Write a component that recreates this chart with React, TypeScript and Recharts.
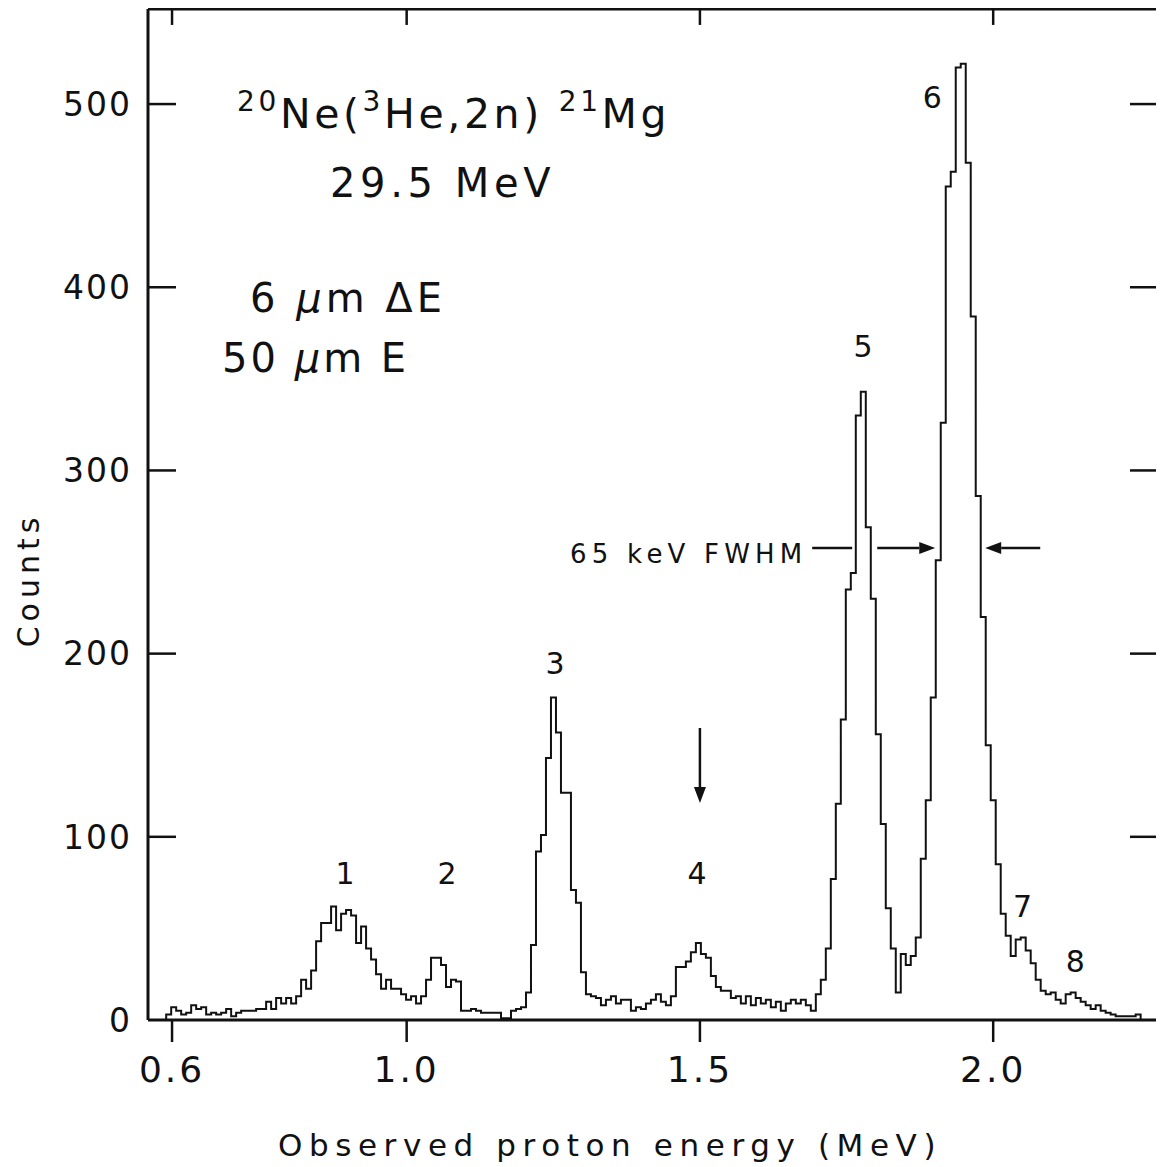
import { Line, LineChart, ReferenceDot, ReferenceLine, XAxis, YAxis } from 'recharts'

// spectrum: channel counts, channel 0 starts at E0, constant channel width
const E0 = 0.59
const CHANNEL_WIDTH = 0.00852
const counts = [
  3, 7, 5, 3, 4, 8, 6, 7, 3, 4,
  3, 4, 6, 2, 4, 5, 5, 5, 6, 6,
  10, 6, 12, 9, 12, 9, 13, 22, 17, 27,
  43, 53, 53, 62, 49, 58, 60, 57, 42, 51,
  39, 33, 25, 17, 22, 17, 17, 14, 11, 13,
  9, 13, 22, 34, 34, 30, 18, 22, 21, 5,
  5, 6, 5, 4, 4, 4, 4, 1, 1, 5,
  6, 7, 15, 41, 92, 101, 143, 176, 157, 124,
  124, 71, 64, 26, 14, 13, 12, 8, 11, 13,
  9, 11, 11, 5, 7, 6, 9, 11, 14, 10,
  8, 13, 29, 29, 32, 37, 42, 36, 34, 24,
  18, 16, 16, 12, 13, 9, 13, 8, 12, 9,
  11, 7, 10, 5, 9, 11, 9, 11, 8, 5,
  14, 22, 39, 77, 118, 164, 235, 244, 330, 343,
  269, 230, 156, 107, 61, 39, 15, 36, 30, 35,
  45, 88, 120, 176, 251, 326, 455, 463, 520, 522,
  468, 384, 286, 220, 150, 120, 85, 58, 46, 35,
  44, 45, 38, 31, 22, 16, 14, 15, 11, 9,
  14, 15, 12, 10, 8, 6, 8, 5, 4, 3,
  2, 2, 2, 2, 3, 0,
]

const energyTicks = [0.6, 1.0, 1.5, 2.0]
const countTicks = [0, 100, 200, 300, 400, 500]
const innerCountTicks = [100, 200, 300, 400, 500]
const E_DOMAIN: [number, number] = [0.559, 2.281]
const C_DOMAIN: [number, number] = [0, 551.9]
const TOP_TICK = 8.7 // length of the top-edge tick marks, in counts

// peak numbers and where they sit (MeV, counts)
const peakNames = ['1', '2', '3', '4', '5', '6', '7', '8']
const peakNameE = [0.895, 1.069, 1.253, 1.495, 1.778, 1.896, 2.05, 2.14]
const peakNameC = [74, 74, 189, 74, 362, 498, 56, 26]

// FWHM marker and the arrow above peak 4
const fwhmCount = 257.6
const fwhmDash = [1.6914, 1.7596]
const fwhmLeftArrow = [1.8023, 1.9012]
const fwhmRightArrow = [2.0802, 1.9864]
const peak4Arrow = { e: 1.5, from: 159.4, to: 118.4 }

const FONT = '"DejaVu Sans", sans-serif'
const INK = '#111'

const data = [
  { e: E0 - CHANNEL_WIDTH, count: 0 },
  ...counts.map((c, i) => ({ e: E0 + i * CHANNEL_WIDTH, count: c })),
  { e: E0 + counts.length * CHANNEL_WIDTH, count: 0 },
]

// inward tick marks for the frame sides (no labels)
const innerTick = (dx: number, dy: number) => (p: any) => (
  <line x1={p.x} y1={p.y} x2={p.x + dx} y2={p.y + dy} stroke={INK} strokeWidth={2.5} />
)

const arrowShape = (head: boolean) => (p: any) => {
  const { x1, y1, x2, y2 } = p
  const dx = x2 - x1
  const dy = y2 - y1
  const len = Math.hypot(dx, dy) || 1
  const ux = dx / len
  const uy = dy / len
  const L = 16
  const W = 6
  const bx = x2 - ux * L
  const by = y2 - uy * L
  return (
    <g>
      <line x1={x1} y1={y1} x2={head ? bx : x2} y2={head ? by : y2} stroke={INK} strokeWidth={2.5} />
      {head && (
        <polygon
          points={`${x2},${y2} ${bx - uy * W},${by + ux * W} ${bx + uy * W},${by - ux * W}`}
          fill={INK}
        />
      )}
    </g>
  )
}

const note = (content: any, size: number, anchor: 'start' | 'middle', spacing = 0) =>
  (p: any) => (
    <text
      x={p.cx}
      y={p.cy}
      fontFamily={FONT}
      fontSize={size}
      textAnchor={anchor}
      letterSpacing={spacing}
      fill={INK}
    >
      {content}
    </text>
  )

const title = (
  <>
    <tspan fontSize={28} dy={-17}>20</tspan>
    <tspan dy={17}>Ne(</tspan>
    <tspan fontSize={28} dy={-17}>3</tspan>
    <tspan dy={17}>He,2n)</tspan>
    <tspan fontSize={28} dx={16} dy={-17}>21</tspan>
    <tspan dy={17}>Mg</tspan>
  </>
)

export default function App() {
  return (
    <div style={{ width: 1156, height: 1159, background: '#fff' }}>
      <LineChart
        width={1156}
        height={1159}
        data={data}
        margin={{ top: 1, right: 6, bottom: 0, left: 0 }}
      >
        <XAxis
          xAxisId="b"
          dataKey="e"
          type="number"
          domain={E_DOMAIN}
          allowDataOverflow
          ticks={energyTicks}
          tickFormatter={(v: number) => v.toFixed(1)}
          height={147}
          tickSize={22}
          tickMargin={14}
          tickLine={{ stroke: INK, strokeWidth: 2.5 }}
          axisLine={{ stroke: INK, strokeWidth: 3 }}
          tick={{ fontSize: 36, fill: INK, fontFamily: FONT, letterSpacing: 3 }}
          label={{
            content: (p: any) => (
              <text
                x={p.viewBox.x + p.viewBox.width / 2 - 43}
                y={p.viewBox.y + 136}
                textAnchor="middle"
                fontFamily={FONT}
                fontSize={31}
                letterSpacing={6.6}
                fill={INK}
              >
                Observed proton energy  (MeV)
              </text>
            ),
          }}
        />
        <XAxis
          xAxisId="t"
          orientation="top"
          mirror
          type="number"
          domain={E_DOMAIN}
          allowDataOverflow
          tick={false}
          tickLine={false}
          axisLine={{ stroke: INK, strokeWidth: 3 }}
        />
        <YAxis
          yAxisId="l"
          orientation="left"
          type="number"
          domain={C_DOMAIN}
          allowDataOverflow
          ticks={countTicks}
          width={140}
          tickLine={false}
          tickSize={0}
          tickMargin={16}
          axisLine={{ stroke: INK, strokeWidth: 3 }}
          tick={{ fontSize: 33, fill: INK, fontFamily: FONT, letterSpacing: 2 }}
          label={{
            content: () => (
              <text
                x={20}
                y={572}
                transform="rotate(-90 20 572)"
                textAnchor="middle"
                dominantBaseline="central"
                fontFamily={FONT}
                fontSize={30}
                letterSpacing={5}
                fill={INK}
              >
                Counts
              </text>
            ),
          }}
        />
        <YAxis
          yAxisId="lm"
          orientation="left"
          mirror
          type="number"
          domain={C_DOMAIN}
          allowDataOverflow
          ticks={innerCountTicks}
          tickLine={false}
          tickSize={0}
          tickMargin={0}
          tick={innerTick(28, 0)}
          axisLine={false}
        />
        <YAxis
          yAxisId="r"
          orientation="right"
          mirror
          type="number"
          domain={C_DOMAIN}
          allowDataOverflow
          ticks={innerCountTicks}
          tickLine={false}
          tickSize={0}
          tickMargin={0}
          tick={innerTick(-28, 0)}
          axisLine={{ stroke: INK, strokeWidth: 3 }}
        />

        <Line
          xAxisId="b"
          yAxisId="l"
          type="stepAfter"
          dataKey="count"
          stroke={INK}
          strokeWidth={2}
          dot={false}
          activeDot={false}
          isAnimationActive={false}
        />

        {energyTicks.map((t) => (
          <ReferenceLine
            key={`top-${t}`}
            xAxisId="b"
            yAxisId="l"
            segment={[{ x: t, y: C_DOMAIN[1] }, { x: t, y: C_DOMAIN[1] - TOP_TICK }]}
            stroke={INK}
            strokeWidth={2.5}
          />
        ))}

        <ReferenceDot xAxisId="b" yAxisId="l" x={0.7108} y={486.9} r={0}
          shape={note(title, 41, 'start', 3.6)} />
        <ReferenceDot xAxisId="b" yAxisId="l" x={0.8694} y={449} r={0}
          shape={note('29.5 MeV', 40, 'start', 4.6)} />
        <ReferenceDot xAxisId="b" yAxisId="l" x={0.733} y={386.5} r={0}
          shape={note(<>6 <tspan fontStyle="italic">μ</tspan>m  ΔE</>, 40, 'start', 4)} />
        <ReferenceDot xAxisId="b" yAxisId="l" x={0.6853} y={353.7} r={0}
          shape={note(<>50 <tspan fontStyle="italic">μ</tspan>m  E</>, 40, 'start', 3)} />
        <ReferenceDot xAxisId="b" yAxisId="l" x={1.2787} y={249.5} r={0}
          shape={note('65 keV  FWHM', 26, 'start', 5.2)} />

        {peakNames.map((name, i) => (
          <ReferenceDot
            key={name}
            xAxisId="b"
            yAxisId="l"
            x={peakNameE[i]}
            y={peakNameC[i]}
            r={0}
            shape={note(name, 30, 'middle')}
          />
        ))}

        <ReferenceLine xAxisId="b" yAxisId="l"
          segment={[{ x: fwhmDash[0], y: fwhmCount }, { x: fwhmDash[1], y: fwhmCount }]}
          shape={arrowShape(false)} />
        <ReferenceLine xAxisId="b" yAxisId="l"
          segment={[{ x: fwhmLeftArrow[0], y: fwhmCount }, { x: fwhmLeftArrow[1], y: fwhmCount }]}
          shape={arrowShape(true)} />
        <ReferenceLine xAxisId="b" yAxisId="l"
          segment={[{ x: fwhmRightArrow[0], y: fwhmCount }, { x: fwhmRightArrow[1], y: fwhmCount }]}
          shape={arrowShape(true)} />
        <ReferenceLine xAxisId="b" yAxisId="l"
          segment={[{ x: peak4Arrow.e, y: peak4Arrow.from }, { x: peak4Arrow.e, y: peak4Arrow.to }]}
          shape={arrowShape(true)} />
      </LineChart>
    </div>
  )
}
